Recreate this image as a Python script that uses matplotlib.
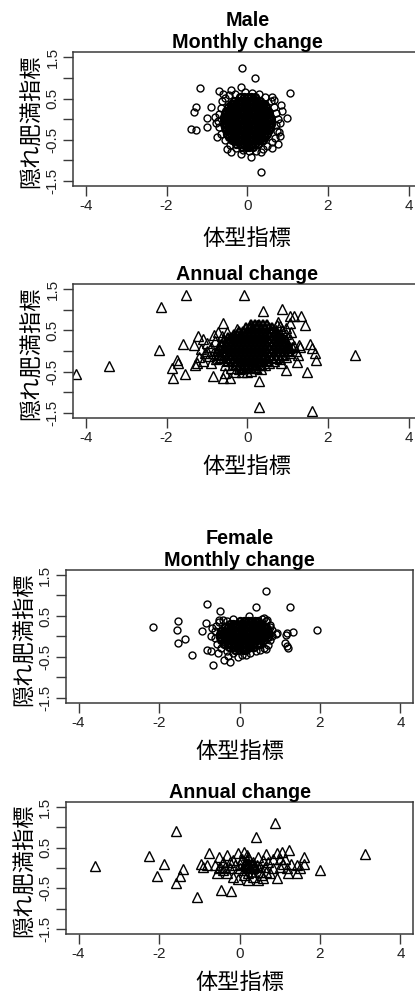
import matplotlib
matplotlib.use('Agg')
import matplotlib.pyplot as plt

plt.rcParams['font.family'] = ['Liberation Sans', 'DejaVu Sans']

# ---- data (x = 体型指標, y = 隠れ肥満指標) ----

# Male, monthly change: dense core rows (y, list of x) + fringe + outliers
male_month_core_y = [0.53, 0.45, 0.37, 0.29, 0.21, 0.13, 0.05, -0.03, -0.11,
                     -0.19, -0.27, -0.35, -0.43, -0.51, -0.59, -0.67]
male_month_core_x = [
    [-0.17, -0.08, 0.01, 0.1, 0.19],
    [-0.32, -0.23, -0.14, -0.04, 0.05, 0.13, 0.23, 0.31],
    [-0.41, -0.35, -0.27, -0.18, -0.09, 0.0, 0.08, 0.18, 0.27, 0.36, 0.42],
    [-0.48, -0.4, -0.31, -0.22, -0.13, -0.05, 0.04, 0.14, 0.22, 0.31, 0.4, 0.47],
    [-0.52, -0.45, -0.36, -0.27, -0.18, -0.09, 0.0, 0.09, 0.18, 0.27, 0.36, 0.45, 0.52],
    [-0.55, -0.49, -0.4, -0.31, -0.22, -0.13, -0.04, 0.05, 0.14, 0.23, 0.32, 0.41, 0.49, 0.55],
    [-0.57, -0.53, -0.45, -0.36, -0.27, -0.18, -0.09, 0.0, 0.09, 0.18, 0.27, 0.36, 0.45, 0.53, 0.57],
    [-0.58, -0.49, -0.4, -0.31, -0.22, -0.13, -0.04, 0.05, 0.14, 0.22, 0.31, 0.4, 0.49, 0.58],
    [-0.57, -0.53, -0.45, -0.36, -0.27, -0.18, -0.09, 0.0, 0.09, 0.18, 0.27, 0.36, 0.45, 0.53, 0.58],
    [-0.56, -0.49, -0.4, -0.31, -0.22, -0.13, -0.04, 0.05, 0.14, 0.23, 0.32, 0.41, 0.49, 0.56],
    [-0.54, -0.45, -0.36, -0.27, -0.18, -0.09, 0.0, 0.09, 0.18, 0.27, 0.36, 0.45, 0.54],
    [-0.5, -0.4, -0.31, -0.22, -0.13, -0.04, 0.05, 0.14, 0.23, 0.32, 0.41, 0.5],
    [-0.45, -0.36, -0.27, -0.18, -0.09, 0.0, 0.09, 0.18, 0.27, 0.36, 0.45],
    [-0.38, -0.31, -0.22, -0.13, -0.04, 0.05, 0.14, 0.23, 0.31, 0.38],
    [-0.27, -0.18, -0.09, 0.0, 0.09, 0.18, 0.27],
    [-0.13, -0.04, 0.05, 0.14],
]
male_month_x = [-0.62, -0.55, -0.45, -0.3, -0.05, 0.12, 0.3, 0.45, 0.58, 0.66, 0.72,
                0.75, 0.7, 0.74, 0.68, 0.6, 0.5, 0.4, 0.22, 0.05, -0.1, -0.28, -0.42,
                -0.55, -0.65, -0.7, -0.72, -0.7, -0.66, -0.78, -0.8, 0.82, 0.85, 0.8,
                0.6, -0.5, -0.6, 0.62,
                -0.12, 0.19, -1.17, -0.71, -0.41, -0.16, 1.05, -1.27, -1.32, -1.4,
                -1.27, -1.01, -1.01, -0.9, -0.74, -0.41, -0.16, 0.09, 0.33, 0.33,
                0.83, 0.99, 0.79, 0.75, 0.66]
male_month_y = [0.45, 0.52, 0.58, 0.62, 0.66, 0.64, 0.6, 0.55, 0.45, 0.3, 0.15,
                0.0, -0.15, -0.28, -0.45, -0.55, -0.65, -0.72, -0.76, -0.78, -0.75,
                -0.7, -0.62, -0.5, -0.35, -0.2, -0.05, 0.12, 0.28, -0.1, 0.05, -0.1,
                0.2, -0.4, -0.7, -0.72, 0.6, 0.55,
                1.25, 0.99, 0.75, 0.69, 0.7, 0.77, 0.63, 0.3, 0.18, -0.24, -0.27,
                0.04, -0.18, 0.3, -0.42, -0.8, -0.85, -0.91, -0.8, -1.29, 0.34,
                0.04, -0.3, -0.61, 0.47]

# Male, annual change
male_year_core_y = [0.63, 0.55, 0.47, 0.39, 0.31, 0.23, 0.15, 0.07, -0.01,
                    -0.09, -0.17, -0.25, -0.33, -0.41]
male_year_core_x = [
    [0.1, 0.2, 0.3, 0.4, 0.5],
    [-0.04, 0.06, 0.15, 0.25, 0.35, 0.45, 0.55, 0.62],
    [-0.2, -0.1, 0.0, 0.1, 0.2, 0.3, 0.4, 0.5, 0.6, 0.7],
    [-0.34, -0.25, -0.15, -0.05, 0.05, 0.15, 0.25, 0.35, 0.45, 0.55, 0.65, 0.76],
    [-0.48, -0.4, -0.3, -0.2, -0.1, 0.0, 0.1, 0.2, 0.3, 0.4, 0.5, 0.6, 0.7, 0.8, 0.86],
    [-0.58, -0.45, -0.35, -0.25, -0.15, -0.05, 0.05, 0.15, 0.25, 0.35, 0.45, 0.55, 0.65, 0.75, 0.85, 0.96],
    [-0.65, -0.5, -0.4, -0.3, -0.2, -0.1, 0.0, 0.1, 0.2, 0.3, 0.4, 0.5, 0.6, 0.7, 0.8, 0.9, 1.0],
    [-0.7, -0.55, -0.45, -0.35, -0.25, -0.15, -0.05, 0.05, 0.15, 0.25, 0.35, 0.45, 0.55, 0.65, 0.75, 0.85, 0.95, 1.04],
    [-0.73, -0.6, -0.5, -0.4, -0.3, -0.2, -0.1, 0.0, 0.1, 0.2, 0.3, 0.4, 0.5, 0.6, 0.7, 0.8, 0.9, 1.0],
    [-0.7, -0.55, -0.45, -0.35, -0.25, -0.15, -0.05, 0.05, 0.15, 0.25, 0.35, 0.45, 0.55, 0.65, 0.75, 0.88],
    [-0.64, -0.5, -0.4, -0.3, -0.2, -0.1, 0.0, 0.1, 0.2, 0.3, 0.4, 0.5, 0.6, 0.7],
    [-0.48, -0.35, -0.25, -0.15, -0.05, 0.05, 0.15, 0.25, 0.35, 0.48],
    [-0.28, -0.18, -0.08, 0.02, 0.12, 0.22, 0.34],
    [-0.1, 0.0, 0.1, 0.22],
]
male_year_x = [-1.21, -1.09, -0.82, -0.63, -1.0, -0.9, -1.15, -1.05, -0.95, -1.2,
               -1.1, -0.9, -0.8, -0.85, -1.25, -1.0, -0.78, -0.72, -0.5, -0.55,
               -0.4, -0.3, -0.2, 0.0, 0.1, 0.35, 0.45, 0.55, 0.65, 0.8, 0.95, 1.05,
               1.1, 1.05, 0.95, 0.85, 0.8, 0.75, 1.2, 1.3, 1.25, 0.95, 0.7,
               -1.52, -0.07, -2.14, 0.39, 0.85, 1.07, 1.15, 1.32, 1.44, 1.07, 1.09,
               -0.59, -0.26, 0.74, -1.6, -1.32, -2.19, -3.43, -4.25, 2.68, -1.75,
               -1.71, -1.87, -1.83, -1.54, -1.29, -0.86, -0.59, -0.42, -0.55, -0.13,
               0.28, 0.3, 1.6, 1.48, 0.97, 1.23, 1.69, 1.71, 1.55, 1.61, 1.27, 1.15,
               0.84, 0.07, 0.24]
male_year_y = [0.35, 0.29, 0.39, 0.35, 0.2, 0.1, 0.05, -0.05, -0.12, -0.15,
               -0.25, -0.3, 0.25, -0.05, -0.3, 0.0, -0.2, 0.45, 0.45, -0.35,
               -0.42, -0.5, -0.45, -0.5, -0.48, -0.45, -0.35, -0.3, -0.25, -0.2,
               -0.15, -0.05, 0.1, 0.3, 0.4, 0.5, 0.6, 0.7, 0.0, 0.1, -0.1, 0.55,
               0.5,
               1.35, 1.35, 1.06, 0.96, 1.01, 0.84, 0.84, 0.85, 0.63, 0.67, 0.46,
               0.67, 0.54, 0.63, 0.16, 0.14, 0.01, -0.36, -0.56, -0.11, -0.23,
               -0.3, -0.42, -0.66, -0.56, -0.34, -0.62, -0.66, -0.66, -0.54, -0.5,
               -0.74, -1.36, -1.45, -0.52, -0.47, -0.26, -0.05, -0.22, 0.17, 0.07,
               0.15, 0.11, -0.3, 0.59, 0.63]

# Female, monthly change
female_month_core_y = [0.38, 0.3, 0.22, 0.14, 0.06, -0.02, -0.1, -0.18, -0.26, -0.34]
female_month_core_x = [
    [0.02, 0.11, 0.2, 0.29, 0.38, 0.45],
    [-0.24, -0.15, -0.06, 0.03, 0.12, 0.21, 0.3, 0.39, 0.48, 0.57],
    [-0.37, -0.29, -0.2, -0.11, -0.02, 0.07, 0.16, 0.25, 0.34, 0.43, 0.52, 0.61, 0.66],
    [-0.45, -0.38, -0.29, -0.2, -0.11, -0.02, 0.07, 0.16, 0.25, 0.34, 0.43, 0.52, 0.61, 0.7],
    [-0.48, -0.42, -0.33, -0.24, -0.15, -0.06, 0.03, 0.12, 0.21, 0.3, 0.39, 0.48, 0.57, 0.66, 0.72],
    [-0.48, -0.38, -0.29, -0.2, -0.11, -0.02, 0.07, 0.16, 0.25, 0.34, 0.43, 0.52, 0.61, 0.7],
    [-0.45, -0.37, -0.28, -0.19, -0.1, -0.01, 0.08, 0.17, 0.26, 0.35, 0.44, 0.53, 0.62],
    [-0.38, -0.29, -0.2, -0.11, -0.02, 0.07, 0.16, 0.25, 0.34, 0.43, 0.5],
    [-0.25, -0.16, -0.07, 0.02, 0.11, 0.2, 0.29, 0.35],
    [-0.1, -0.01, 0.08, 0.15],
]
female_month_x = [-0.62, -0.6, -0.58, -0.5, -0.4, -0.3, -0.15, 0.55, 0.66, 0.75,
                  0.8, 0.82, 0.75, 0.7, 0.62, 0.5, 0.4, 0.25, 0.05, -0.15, -0.3,
                  -0.45, -0.55, -0.7, -0.68, 0.9, 0.68, 0.65,
                  0.65, -0.81, -0.48, 0.41, 1.25, -2.15, -1.53, -1.56, -1.35, -1.54,
                  -1.19, -0.67, -0.38, -0.24, -0.81, -0.71, -0.53, -0.29, -0.03,
                  0.17, 1.92, 1.33, 1.19, 1.15, 1.12, 1.17, 1.2, 0.94, 0.77, 0.61,
                  0.24, -0.94, -0.84, -0.51]
female_month_y = [0.12, -0.05, 0.25, 0.35, 0.4, 0.38, 0.42, 0.42, 0.38, 0.28,
                  0.15, 0.02, -0.1, -0.2, -0.28, -0.32, -0.36, -0.4, -0.45, -0.4,
                  -0.35, -0.28, -0.18, 0.0, 0.2, 0.05, 0.4, -0.3,
                  1.12, 0.8, 0.63, 0.71, 0.71, 0.24, 0.37, 0.16, -0.06, -0.15,
                  -0.45, -0.69, -0.58, -0.62, -0.32, -0.36, -0.4, -0.47, -0.5,
                  -0.45, 0.16, 0.11, 0.08, 0.04, -0.16, -0.24, -0.28, 0.08, 0.24,
                  0.45, 0.51, 0.14, 0.33, 0.41]

# Female, annual change (dense centre first, then the spread-out points)
female_year_core_x = [0.18, 0.24, 0.28, 0.16, 0.34, 0.22, 0.26, 0.14, 0.3, 0.39]
female_year_core_y = [0.03, 0.07, 0.01, 0.11, 0.07, 0.11, -0.01, 0.07, -0.09, 0.03]
female_year_x = [-0.77, -0.52, -0.32, -0.03, 0.18, 0.67, 0.92, 1.05, 1.24, 1.6,
                 1.6, 1.42, 1.42, 1.21, 1.09, 1.13, 0.92, 0.59, 0.47, 0.22, -0.03,
                 -0.57, -0.96, -0.9, -0.81, -0.48, -0.4, -0.24, -0.15, 0.01, 0.1,
                 0.18, 0.22, 0.3, 0.34, 0.43, 0.51, 0.63, 0.71, 0.84, 1.0, 1.17,
                 1.29, 1.5, 0.76, 0.34, 0.1, -0.15, -0.32, -0.4, 0.22, 0.1, 0.47,
                 0.59, 0.84, 1.0, 0.01, -0.11, -0.23,
                 0.51, 0.55, 0.67, 0.22, 0.34, 0.05, -0.36, -0.52, -0.61,
                 0.88, 0.41, -1.58, -3.59, 3.11, -2.25, -1.87, -2.05, -1.41, -1.48,
                 -1.58, -1.06, -0.46, -0.22, 2.0]
female_year_y = [0.36, 0.27, 0.31, 0.38, 0.33, 0.34, 0.36, 0.4, 0.45, 0.27,
                 0.11, 0.07, -0.13, -0.13, 0.11, 0.23, -0.24, -0.25, -0.29, -0.29,
                 -0.27, -0.13, 0.09, 0.03, 0.07, 0.03, 0.15, -0.01, 0.19, 0.11,
                 -0.05, 0.19, 0.03, 0.11, -0.01, 0.07, -0.09, 0.03, 0.15, -0.01,
                 0.03, -0.01, 0.11, -0.01, -0.13, -0.21, -0.17, -0.21, -0.13, -0.05,
                 0.28, 0.4, 0.28, 0.19, 0.23, 0.23, -0.01, 0.07, 0.15,
                 0.03, -0.17, -0.09, -0.13, 0.15, 0.23, 0.03, -0.01, 0.07,
                 1.11, 0.76, 0.92, 0.06, 0.34, 0.3, 0.09, -0.19, -0.03, -0.19,
                 -0.37, -0.71, -0.54, -0.57, -0.05]

x_ticks = [-4, -2, 0, 2, 4]
y_ticks = [-1.5, -1, -0.5, 0, 0.5, 1, 1.5]
y_tick_labels = ['-1.5', '', '-0.5', '', '0.5', '', '1.5']


def rows_to_points(core_y, core_x):
    xs = [v for row in core_x for v in row]
    ys = [yy for yy, row in zip(core_y, core_x) for _ in row]
    return xs, ys


W, H = 415, 994
fig = plt.figure(figsize=(W / 100, H / 100), dpi=100)
jp = ['Noto Sans CJK JP', 'DejaVu Sans']


def panel(box, title, core, extra, marker, ms, core_mew, xlab_off):
    left, top, right, bottom = box
    w, h = right - left, bottom - top
    ax = fig.add_axes([left / W, 1 - bottom / H, w / W, h / H])
    # the overplotted centre of the cloud is drawn with heavier outlines
    ax.plot(core[0], core[1], linestyle='none', marker=marker, ms=ms,
            mfc='none', mec='black', mew=core_mew)
    ax.plot(extra[0], extra[1], linestyle='none', marker=marker, ms=ms,
            mfc='none', mec='black', mew=1.0)
    ax.set_xlim(-4.32, 4.32)
    ax.set_ylim(-1.62, 1.63)
    ax.set_xticks(x_ticks)
    ax.set_xticklabels([str(t) for t in x_ticks], fontsize=11, color='#222222')
    ax.set_yticks(y_ticks)
    ax.set_yticklabels(y_tick_labels, fontsize=11, color='#222222',
                       rotation=90, va='center')
    ax.tick_params(length=7.5, width=1.0, color='#3a3a3a')
    ax.tick_params(axis='x', pad=2.2)
    ax.tick_params(axis='y', pad=2.2)
    for s in ax.spines.values():
        s.set_color('#3a3a3a')
        s.set_linewidth(1.1)
    ax.set_title(title, fontsize=14.2, fontweight='bold', pad=0.5,
                 linespacing=1.2)
    ax.set_xlabel('体型指標', fontsize=16, family=jp, va='center')
    ax.xaxis.set_label_coords(0.5, -xlab_off / h)
    ax.set_ylabel('隠れ肥満指標', fontsize=16, family=jp, va='center')
    ax.yaxis.set_label_coords(-41.5 / w, 0.48)
    return ax


panel((73, 52, 421.6, 186), 'Male\nMonthly change',
      rows_to_points(male_month_core_y, male_month_core_x),
      (male_month_x, male_month_y), 'o', 5, 1.7, 52)

panel((73, 283.7, 421.6, 417.7), 'Annual change',
      rows_to_points(male_year_core_y, male_year_core_x),
      (male_year_x, male_year_y), '^', 6.5, 1.6, 49)

panel((65.7, 569.7, 413.3, 702.7), 'Female\nMonthly change',
      rows_to_points(female_month_core_y, female_month_core_x),
      (female_month_x, female_month_y), 'o', 5, 1.7, 49)

panel((65.7, 801.7, 413.3, 934), 'Annual change',
      (female_year_core_x, female_year_core_y),
      (female_year_x, female_year_y), '^', 6.5, 1.2, 48)

fig.savefig('out.png', dpi=100)
